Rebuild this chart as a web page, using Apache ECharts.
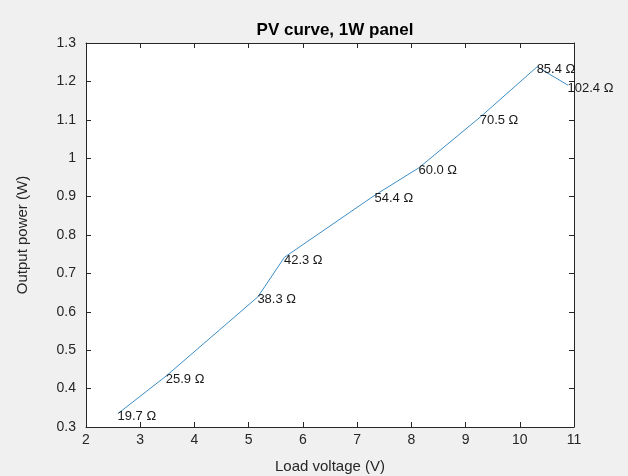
<!DOCTYPE html>
<html>
<head>
<meta charset="utf-8">
<script src="https://cdn.jsdelivr.net/npm/echarts@6/dist/echarts.min.js"></script>
<style>
  html, body { margin: 0; padding: 0; background: #f0f0f0; }
  #main { width: 628px; height: 476px; }
</style>
</head>
<body>
<div id="main"></div>
<script>
// values
var voltage = [2.59, 3.48, 5.17, 5.66, 7.33, 8.14, 9.27, 10.32, 10.89]
var power = [0.335, 0.433, 0.639, 0.742, 0.904, 0.975, 1.107, 1.238, 1.19]
var resistance = ['19.7', '25.9', '38.3', '42.3', '54.4', '60.0', '70.5', '85.4', '102.4']

var xTicks = { min: 2, max: 11, interval: 1 }
var yTicks = { min: 0.3, max: 1.3, interval: 0.1 }

var chart = echarts.init(document.getElementById('main'))

var font = 'Liberation Sans, Arial, sans-serif'
var axisLine = { show: true, lineStyle: { color: '#262626', width: 1 } }
var tickIn = { show: true, inside: true, length: 5, lineStyle: { color: '#262626' } }

var seriesData = voltage.map(function (v, i) {
  return [v, power[i]]
})

var options = {
  backgroundColor: '#f0f0f0',
  animation: false,
  title: {
    text: 'PV curve, 1W panel',
    left: 330,
    textAlign: 'center',
    top: 17,
    textStyle: { fontFamily: font, fontSize: 17, fontWeight: 'bold', color: '#000' }
  },
  grid: {
    left: 86,
    right: 54,
    top: 43,
    bottom: 49,
    outerBoundsMode: 'none',
    containLabel: false,
    show: true,
    backgroundColor: '#ffffff',
    borderWidth: 0
  },
  xAxis: [
    {
      type: 'value',
      min: xTicks.min,
      max: xTicks.max,
      interval: xTicks.interval,
      name: 'Load voltage (V)',
      nameLocation: 'middle',
      nameGap: 32,
      nameTextStyle: { fontFamily: font, fontSize: 15, color: '#262626' },
      axisLine: axisLine,
      axisTick: tickIn,
      splitLine: { show: false },
      axisLabel: { fontFamily: font, fontSize: 14, color: '#262626', margin: 6 }
    },
    {
      type: 'value',
      position: 'top',
      min: xTicks.min,
      max: xTicks.max,
      interval: xTicks.interval,
      axisLine: axisLine,
      axisTick: tickIn,
      splitLine: { show: false },
      axisLabel: { show: false }
    }
  ],
  yAxis: [
    {
      type: 'value',
      min: yTicks.min,
      max: yTicks.max,
      interval: yTicks.interval,
      name: 'Output power (W)',
      nameLocation: 'middle',
      nameGap: 56,
      nameRotate: 90,
      nameTextStyle: { fontFamily: font, fontSize: 15, color: '#262626' },
      axisLine: axisLine,
      axisTick: tickIn,
      splitLine: { show: false },
      axisLabel: {
        fontFamily: font, fontSize: 14, color: '#262626', margin: 10,
        formatter: function (v) { return String(Math.round(v * 10) / 10) }
      }
    },
    {
      type: 'value',
      position: 'right',
      min: yTicks.min,
      max: yTicks.max,
      interval: yTicks.interval,
      axisLine: axisLine,
      axisTick: tickIn,
      splitLine: { show: false },
      axisLabel: { show: false }
    }
  ],
  series: [
    {
      type: 'line',
      data: seriesData,
      symbol: 'circle',
      symbolSize: 1,
      itemStyle: { color: 'rgba(0,0,0,0)', borderWidth: 0 },
      lineStyle: { color: '#3d8ec4', width: 1 },
      label: {
        show: true,
        position: 'right',
        distance: 0,
        offset: [-1, 3],
        align: 'left',
        verticalAlign: 'middle',
        fontFamily: font,
        fontSize: 13,
        color: '#1a1a1a',
        formatter: function (p) {
          return resistance[p.dataIndex] + ' Ω'
        }
      },
      z: 5
    }
  ]
}

chart.setOption(options)
</script>
</body>
</html>
